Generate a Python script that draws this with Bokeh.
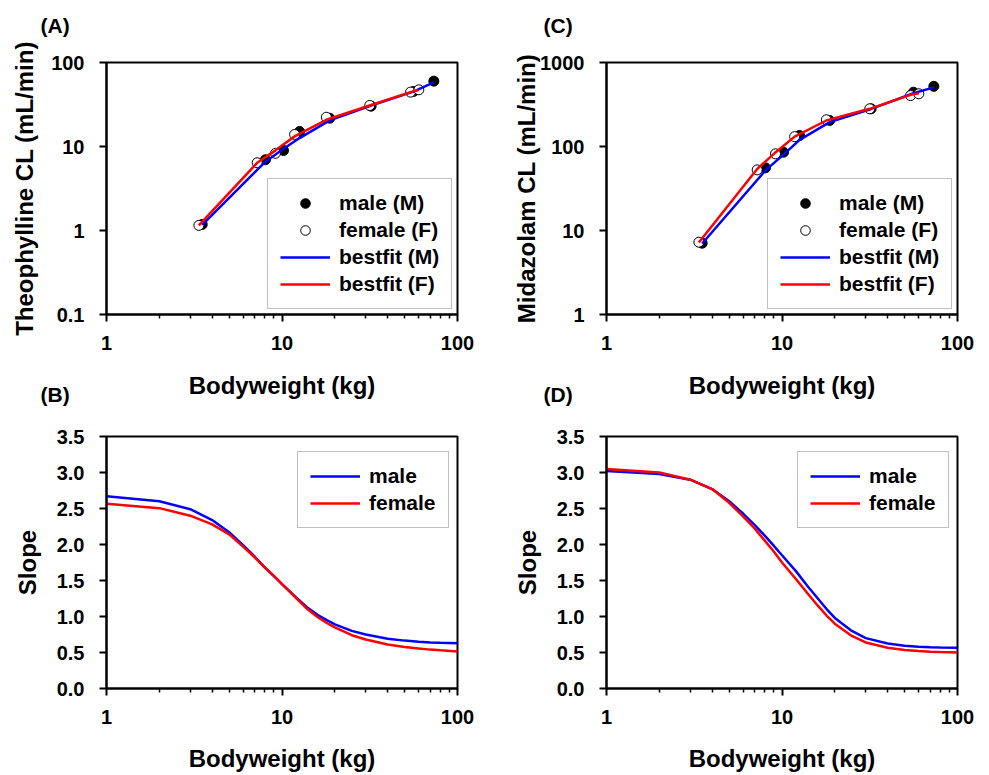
from bokeh.plotting import figure
from bokeh.layouts import column, row
from bokeh.models import (FixedTicker, NumeralTickFormatter, Legend, LegendItem,
                          Range1d, LogAxis, Title)
from bokeh.embed import file_html
from bokeh.resources import INLINE

FONT = "Liberation Sans"

# ---------------- data ----------------
# Panel A: Theophylline clearance (mL/min) vs bodyweight (kg)
male_wt = [3.51, 8.05, 10.2, 12.6, 18.7, 32.2, 56.1, 73.3]
female_wt = [3.36, 7.22, 9.18, 11.8, 17.9, 31.6, 54.0, 60.2]

theo_male_cl = [1.18, 6.95, 8.96, 15.1, 21.7, 30.2, 45.2, 60.0]
theo_female_cl = [1.15, 6.4, 8.3, 13.9, 22.3, 30.8, 44.4, 47.3]
theo_fit_male = [1.17, 6.6, 9.4, 12.6, 20.5, 30.8, 45.0, 58.0]
theo_fit_female = [1.15, 6.4, 9.0, 13.2, 20.8, 30.8, 44.4, 47.3]

# Panel C: Midazolam clearance (mL/min) vs bodyweight (kg)
mdz_male_cl = [7.06, 55.7, 85.5, 135, 204, 281, 443, 520]
mdz_female_cl = [7.26, 52.7, 81.8, 131, 208, 281, 404, 424]
mdz_fit_male = [7.0, 52, 80, 120, 195, 280, 430, 505]
mdz_fit_female = [7.2, 54, 85, 131, 204, 281, 412, 431]

# Panels B and D: allometric slope vs bodyweight
slope_wt = [1, 2, 3, 4, 5, 6, 7, 8, 9, 10, 12, 14, 16, 18, 20, 25, 30, 40, 50, 60, 70, 80, 100]
theo_slope_male = [2.67, 2.60, 2.49, 2.34, 2.17, 1.99, 1.83, 1.68, 1.56, 1.45, 1.27, 1.12,
                   1.02, 0.95, 0.89, 0.80, 0.75, 0.69, 0.665, 0.65, 0.64, 0.635, 0.63]
theo_slope_female = [2.565, 2.505, 2.40, 2.28, 2.14, 1.97, 1.82, 1.68, 1.56, 1.45, 1.26, 1.10,
                     0.99, 0.91, 0.85, 0.74, 0.68, 0.61, 0.575, 0.555, 0.54, 0.53, 0.515]
mdz_slope_male = [3.02, 2.98, 2.90, 2.77, 2.60, 2.43, 2.27, 2.12, 1.98, 1.85, 1.63, 1.42,
                  1.25, 1.10, 0.98, 0.80, 0.70, 0.625, 0.595, 0.58, 0.573, 0.568, 0.565]
mdz_slope_female = [3.05, 3.00, 2.90, 2.77, 2.58, 2.39, 2.22, 2.05, 1.90, 1.75, 1.52, 1.32,
                    1.15, 1.01, 0.90, 0.73, 0.64, 0.565, 0.535, 0.52, 0.512, 0.507, 0.50]

x_major = [1, 10, 100]
x_minor = [2, 3, 4, 5, 6, 7, 8, 9, 20, 30, 40, 50, 60, 70, 80, 90]
theo_y_ticks = [0.1, 1, 10, 100]
mdz_y_ticks = [1, 10, 100, 1000]
slope_y_ticks = [0.0, 0.5, 1.0, 1.5, 2.0, 2.5, 3.0, 3.5]

BLUE = "#0000FF"
RED = "#FF0000"


def make_fig(width, height, ml, mr, mt, mb, y_type, y_range):
    p = figure(width=width, height=height, x_axis_type="log", y_axis_type=y_type,
               x_range=Range1d(1, 100), y_range=y_range,
               output_backend="svg", toolbar_location=None,
               min_border_left=ml, min_border_right=mr,
               min_border_top=mt, min_border_bottom=mb)
    p.xgrid.grid_line_color = None
    p.ygrid.grid_line_color = None
    p.outline_line_color = "black"
    p.outline_line_width = 2
    p.outline_line_alpha = 1
    p.background_fill_color = "white"
    p.border_fill_color = "white"
    return p


def style_axes(p, ylabel, yticks, yfmt, y_als, x_als):
    xa = p.xaxis[0]
    ya = p.yaxis[0]
    xa.ticker = FixedTicker(ticks=x_major, minor_ticks=x_minor)
    xa.formatter = NumeralTickFormatter(format="0")
    ya.ticker = FixedTicker(ticks=yticks, minor_ticks=[])
    ya.formatter = NumeralTickFormatter(format=yfmt)
    xa.axis_label = "Bodyweight (kg)"
    ya.axis_label = ylabel
    for ax in (xa, ya):
        ax.axis_line_width = 2
        ax.axis_line_color = "black"
        ax.major_tick_line_width = 2
        ax.major_tick_line_color = "black"
        ax.major_tick_out = 7
        ax.major_tick_in = 0
        ax.minor_tick_line_width = 1.5
        ax.minor_tick_line_color = "black"
        ax.minor_tick_out = 4
        ax.minor_tick_in = 0
        ax.major_label_text_font = FONT
        ax.major_label_text_font_style = "bold"
        ax.major_label_text_font_size = "20px"
        ax.major_label_text_color = "black"
        ax.axis_label_text_font = FONT
        ax.axis_label_text_font_style = "bold"
        ax.axis_label_text_font_size = "24px"
        ax.axis_label_text_color = "black"
    ya.minor_tick_line_color = None
    xa.major_label_standoff = 14
    ya.major_label_standoff = 15
    ya.axis_label_standoff = y_als
    xa.axis_label_standoff = x_als


def style_legend(leg):
    leg.label_text_font = FONT
    leg.label_text_font_style = "bold"
    leg.label_text_font_size = "21px"
    leg.label_text_color = "black"
    leg.border_line_color = "#808080"
    leg.border_line_width = 1.5
    leg.background_fill_color = "white"
    leg.background_fill_alpha = 1
    leg.padding = 12
    leg.spacing = 3
    leg.margin = 0
    leg.glyph_width = 50
    leg.glyph_height = 24
    leg.label_height = 24
    leg.label_standoff = 9


def letter_title(text, offset, valign, standoff):
    return Title(text=text, align="left", offset=offset, vertical_align=valign,
                 standoff=standoff, text_font=FONT, text_font_style="bold",
                 text_font_size="21px", text_color="black")


def spacer_axis(standoff):
    # empty axis (transparent label) that only reserves vertical space above the frame
    return LogAxis(ticker=FixedTicker(ticks=[], minor_ticks=[]),
                   axis_label="(A)", axis_label_standoff=standoff,
                   axis_label_text_font=FONT, axis_label_text_font_size="21px",
                   axis_label_text_alpha=0,
                   axis_line_color=None, major_tick_line_color=None,
                   minor_tick_line_color=None, major_tick_out=0, major_tick_in=0,
                   minor_tick_out=0, minor_tick_in=0, major_label_standoff=0,
                   major_label_text_alpha=0)


def cl_panel(width, ml, mr, ylabel, yrange, yticks, y_als,
             mcl, fcl, mfit, ffit, lab_top, lab_bottom, lab_dx):
    p = make_fig(width, 406, ml, mr, 62, 92, "log", yrange)
    style_axes(p, ylabel, yticks, "0.[0]", y_als, 19)
    rm = p.scatter(male_wt, mcl, marker="circle", size=10, fill_color="black",
                   line_color="black", line_width=1)
    rf = p.scatter(female_wt, fcl, marker="circle", size=10, fill_color="white",
                   line_color="black", line_width=1)
    lm = p.line(male_wt, mfit, line_color=BLUE, line_width=2.5)
    lf = p.line(female_wt, ffit, line_color=RED, line_width=2.5)
    leg = Legend(items=[LegendItem(label="male (M)", renderers=[rm]),
                        LegendItem(label="female (F)", renderers=[rf]),
                        LegendItem(label="bestfit (M)", renderers=[lm]),
                        LegendItem(label="bestfit (F)", renderers=[lf])],
                 location=(161, 5))
    style_legend(leg)
    p.add_layout(leg)
    p.add_layout(spacer_axis(0), "above")
    p.add_layout(letter_title(lab_top, lab_dx, "bottom", 0), "above")
    p.add_layout(letter_title(lab_bottom, lab_dx, "top", -38), "below")
    return p


def slope_panel(width, ml, mr, y_als, ymale, yfemale):
    p = make_fig(width, 369, ml, mr, 30, 87, "linear", Range1d(0, 3.5))
    style_axes(p, "Slope", slope_y_ticks, "0.0", y_als, 18)
    lm = p.line(slope_wt, ymale, line_color=BLUE, line_width=2.5)
    lf = p.line(slope_wt, yfemale, line_color=RED, line_width=2.5)
    leg = Legend(items=[LegendItem(label="male", renderers=[lm]),
                        LegendItem(label="female", renderers=[lf])],
                 location=(191, 160))
    style_legend(leg)
    p.add_layout(leg)
    return p


pA = cl_panel(498, 106, 41, "Theophylline CL (mL/min)", Range1d(0.1, 100), theo_y_ticks, 10,
              theo_male_cl, theo_female_cl, theo_fit_male, theo_fit_female, "(A)", "(B)", -66)
pC = cl_panel(491, 108, 32, "Midazolam CL (mL/min)", Range1d(1, 1000), mdz_y_ticks, -3,
              mdz_male_cl, mdz_female_cl, mdz_fit_male, mdz_fit_female, "(C)", "(D)", -63)
pB = slope_panel(498, 106, 41, 13, theo_slope_male, theo_slope_female)
pD = slope_panel(491, 108, 32, 13, mdz_slope_male, mdz_slope_female)

layout = column(row(pA, pC), row(pB, pD))

open("out.html", "w").write(file_html(layout, INLINE))
